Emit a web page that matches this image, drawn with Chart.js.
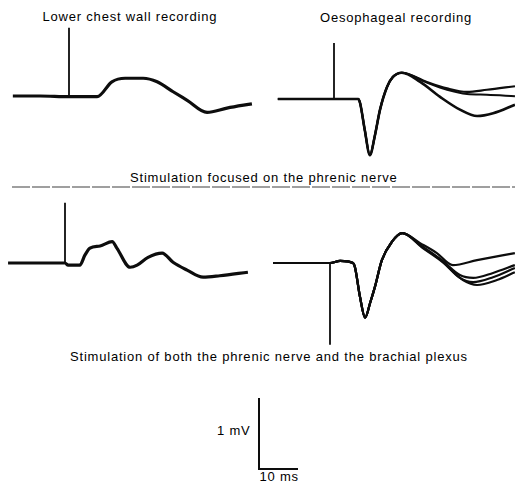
<!DOCTYPE html>
<html>
<head>
<meta charset="utf-8">
<script src="https://cdn.jsdelivr.net/npm/chart.js@4/dist/chart.umd.min.js"></script>
<style>
  html, body { margin:0; padding:0; background:#fff; }
  #stage { position:relative; width:515px; height:488px; overflow:hidden; background:#fff; }
  canvas { position:absolute; }
  .lbl { position:absolute; font-family:"Liberation Sans", Arial, sans-serif; font-size:13px; letter-spacing:0.8px; color:#000; white-space:nowrap; line-height:1; }
  svg { position:absolute; left:0; top:0; }
</style>
</head>
<body>
<div id="stage">
  <div class="lbl" id="t1">Lower chest wall recording</div>
  <div class="lbl" id="t2">Oesophageal recording</div>
  <div class="lbl" id="t3">Stimulation focused on the phrenic nerve</div>
  <div class="lbl" id="t4">Stimulation of both the phrenic nerve and the brachial plexus</div>
  <div class="lbl" id="t5">1 mV</div>
  <div class="lbl" id="t6">10 ms</div>
  <svg width="515" height="488"><line x1="12" y1="187" x2="515" y2="187" stroke="#808080" stroke-width="1.5" stroke-dasharray="18 2"/></svg>
</div>
<script>
// ---- Data (time in ms relative to stimulus, amplitude in mV) ----
// Panel A: phrenic nerve stimulation, lower chest wall recording
const chestPhrenicT = [-14.4, -7.4, 0, 2.8, 7.2, 11.0, 14.4, 19.0, 22.6, 26.7, 30.3, 35.4, 40.5, 46.9];
const chestPhrenicV = [0, 0, -0.01, -0.01, -0.01, 0.20, 0.25, 0.25, 0.20, 0.06, -0.06, -0.23, -0.17, -0.11];
const chestPhrenicStim = 0.96;

// Panel B: phrenic nerve stimulation, oesophageal recording (3 superimposed traces)
const oesoPhrenicSharedT = [-14.4, 0, 6.2, 6.7, 7.9, 9.2, 10.5, 11.8, 13.6, 15.1, 17.4];
const oesoPhrenicSharedV = [0, 0, 0, -0.06, -0.44, -0.79, -0.51, -0.15, 0.17, 0.31, 0.37];
const oesoPhrenicTailT1 = [23.8, 29.0, 34.1, 39.2, 46.4];
const oesoPhrenicTailV1 = [0.24, 0.15, 0.10, 0.13, 0.18];
const oesoPhrenicTailT2 = [23.8, 29.0, 34.1, 39.2, 46.4];
const oesoPhrenicTailV2 = [0.23, 0.13, 0.07, 0.06, 0.04];
const oesoPhrenicTailT3 = [22.1, 27.2, 32.3, 36.7, 40.8, 46.4];
const oesoPhrenicTailV3 = [0.24, 0.03, -0.15, -0.24, -0.20, -0.08];
const oesoPhrenicStim = 0.79;

// Panel C: phrenic + brachial plexus stimulation, lower chest wall recording
const chestBothT = [-14.6, -6.4, 0, 0.8, 3.8, 5.1, 6.4, 9.0, 12.1, 13.3, 16.7, 18.5, 21.3, 24.9, 27.7, 31.3, 35.4, 39.7, 46.9];
const chestBothV = [0, 0, 0, -0.03, -0.03, 0.11, 0.21, 0.24, 0.30, 0.21, -0.06, -0.03, 0.08, 0.14, 0.01, -0.10, -0.20, -0.18, -0.13];
const chestBothStim = 0.85;

// Panel D: phrenic + brachial plexus stimulation, oesophageal recording (4 superimposed traces)
const oesoBothSharedT = [-14.6, 0, 2.6, 5.9, 6.4, 7.7, 9.0, 10.3, 11.5, 13.3, 15.9, 18.5];
const oesoBothSharedV = [0, 0, 0.03, 0, -0.06, -0.48, -0.77, -0.56, -0.34, 0.04, 0.30, 0.42];
const oesoBothTailT1 = [23.1, 27.4, 31.5, 37.7, 47.4];
const oesoBothTailV1 = [0.28, 0.14, -0.03, 0.04, 0.14];
const oesoBothTailT2 = [23.8, 28.7, 33.3, 36.7, 41.8, 47.4];
const oesoBothTailV2 = [0.23, 0.04, -0.17, -0.21, -0.14, -0.03];
const oesoBothTailT3 = [23.8, 28.7, 33.3, 36.7, 41.8, 47.4];
const oesoBothTailV3 = [0.22, 0.03, -0.21, -0.27, -0.20, -0.07];
const oesoBothTailT4 = [23.8, 28.7, 34.1, 37.7, 42.8, 47.4];
const oesoBothTailV4 = [0.21, 0.02, -0.24, -0.31, -0.24, -0.13];
const oesoBothStim = -1.15;

// Calibration bar
const scaleBarT = [0, 0, 10];
const scaleBarV = [1, 0, 0];

// ---- Rendering ----
const PXMS = 3.9;   // pixels per ms
const PXMV = 71;    // pixels per mV
const INK = '#0d0d0d';

function pts(t, v) { return t.map((x, i) => ({ x: x, y: v[i] })); }
function join(t1, v1, t2, v2) { return pts(t1.concat(t2), v1.concat(v2)); }

function traceDs(data, w) {
  return { data: data, borderColor: INK, borderWidth: w, pointRadius: 0,
           cubicInterpolationMode: 'monotone', fill: false, clip: false };
}
function stimDs(amp) {
  return { data: [{ x: 0, y: 0 }, { x: 0, y: amp }], borderColor: INK, borderWidth: 1.8,
           pointRadius: 0, tension: 0, fill: false, clip: false };
}

function panel(stimX, baseY, xmin, xmax, ymin, ymax, datasets) {
  const left = Math.round(stimX + xmin * PXMS);
  const right = Math.round(stimX + xmax * PXMS);
  const top = Math.round(baseY - ymax * PXMV);
  const bottom = Math.round(baseY - ymin * PXMV);
  const c = document.createElement('canvas');
  c.width = right - left; c.height = bottom - top;
  c.style.left = left + 'px'; c.style.top = top + 'px';
  c.style.width = (right - left) + 'px'; c.style.height = (bottom - top) + 'px';
  document.getElementById('stage').appendChild(c);
  new Chart(c, {
    type: 'line',
    data: { datasets: datasets },
    options: {
      responsive: false, animation: false, events: [], devicePixelRatio: 1,
      layout: { padding: 0 },
      plugins: { legend: { display: false }, tooltip: { enabled: false } },
      scales: {
        x: { type: 'linear', display: false, min: (left - stimX) / PXMS, max: (right - stimX) / PXMS },
        y: { type: 'linear', display: false, min: (baseY - bottom) / PXMV, max: (baseY - top) / PXMV }
      }
    }
  });
}

panel(69, 96, -16, 49, -1.3, 1.1, [
  traceDs(pts(chestPhrenicT, chestPhrenicV), 3.2),
  stimDs(chestPhrenicStim)
]);
panel(334, 99, -16, 49, -1.3, 1.1, [
  traceDs(join(oesoPhrenicSharedT, oesoPhrenicSharedV, oesoPhrenicTailT1, oesoPhrenicTailV1), 2.2),
  traceDs(join(oesoPhrenicSharedT, oesoPhrenicSharedV, oesoPhrenicTailT2, oesoPhrenicTailV2), 2),
  traceDs(join(oesoPhrenicSharedT, oesoPhrenicSharedV, oesoPhrenicTailT3, oesoPhrenicTailV3), 2.6),
  stimDs(oesoPhrenicStim)
]);
panel(65, 263, -16, 49, -1.3, 1.1, [
  traceDs(pts(chestBothT, chestBothV), 3.2),
  stimDs(chestBothStim)
]);
panel(330, 263, -16, 49, -1.3, 1.1, [
  traceDs(join(oesoBothSharedT, oesoBothSharedV, oesoBothTailT1, oesoBothTailV1), 2.2),
  traceDs(join(oesoBothSharedT, oesoBothSharedV, oesoBothTailT2, oesoBothTailV2), 2.2),
  traceDs(join(oesoBothSharedT, oesoBothSharedV, oesoBothTailT3, oesoBothTailV3), 2.2),
  traceDs(join(oesoBothSharedT, oesoBothSharedV, oesoBothTailT4, oesoBothTailV4), 2.2),
  stimDs(oesoBothStim)
]);
panel(259, 469, -2, 12, -0.2, 1.2, [
  { data: pts(scaleBarT, scaleBarV), borderColor: INK, borderWidth: 2, pointRadius: 0, tension: 0, fill: false, clip: false }
]);

// ---- Text placement (centred / anchored) ----
function place(id, x, capTop, align) {
  const el = document.getElementById(id);
  const w = el.offsetWidth;
  const lx = align === 'center' ? x - w / 2 : (align === 'right' ? x - w : x);
  el.style.left = lx + 'px';
  el.style.top = (capTop - 2) + 'px';
}
place('t1', 130, 12, 'center');
place('t2', 396, 13, 'center');
place('t3', 264, 173, 'center');
place('t4', 269, 352, 'center');
place('t5', 251, 426, 'right');
place('t6', 279, 472, 'center');
</script>
</body>
</html>
